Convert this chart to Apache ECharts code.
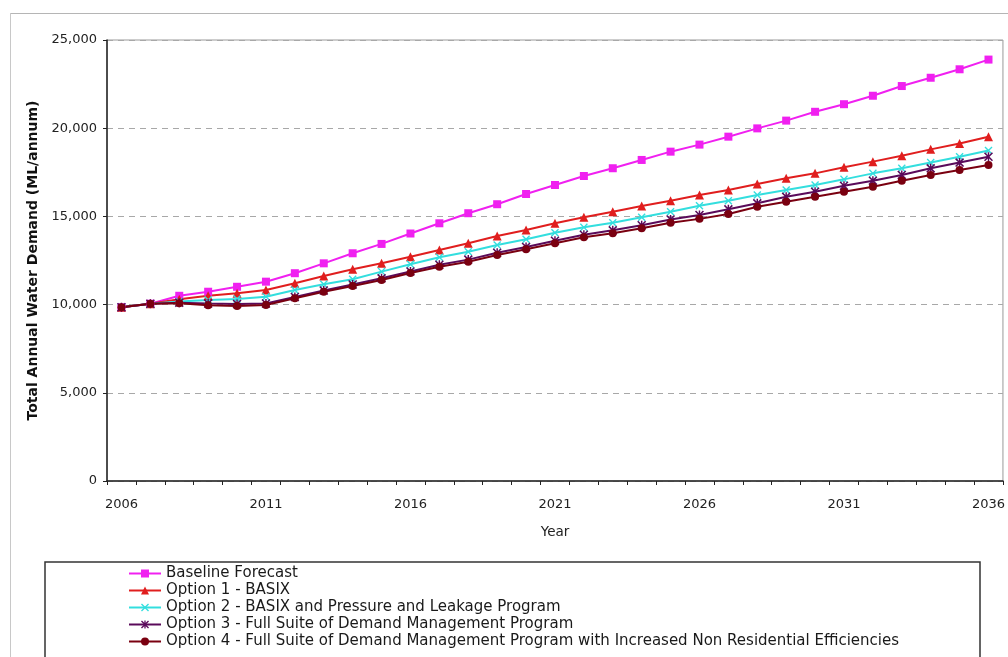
<!DOCTYPE html>
<html>
<head>
<meta charset="utf-8">
<script src="https://cdn.jsdelivr.net/npm/echarts@6/dist/echarts.min.js"></script>
<style>
html, body { margin: 0; padding: 0; background: #fff; }
#chart { width: 1008px; height: 657px; }
</style>
</head>
<body>
<div id="chart"></div>
<script>
// Forecast years
const years = ['2006','2007','2008','2009','2010','2011','2012','2013','2014','2015',
  '2016','2017','2018','2019','2020','2021','2022','2023','2024','2025',
  '2026','2027','2028','2029','2030','2031','2032','2033','2034','2035','2036'];

// Total annual water demand (ML/annum) per scenario
const baseline = [9850,10050,10500,10730,11010,11300,11780,12340,12910,13440,
  14030,14610,15180,15690,16270,16780,17290,17730,18200,18670,
  19070,19520,19990,20430,20930,21360,21840,22390,22860,23340,23890];
const option1 = [9850,10050,10300,10500,10640,10830,11210,11620,12000,12340,
  12715,13095,13475,13890,14230,14610,14950,15265,15590,15890,
  16215,16500,16840,17160,17440,17785,18105,18440,18800,19130,19520];
const option2 = [9850,10050,10170,10260,10320,10450,10830,11150,11440,11870,
  12290,12680,13000,13380,13700,14075,14380,14640,14950,15265,
  15600,15890,16215,16500,16780,17100,17440,17725,18050,18385,18740];
const option3 = [9850,10050,10110,10060,10040,10060,10430,10800,11140,11490,
  11880,12260,12550,12940,13270,13620,13960,14210,14500,14830,
  15080,15400,15740,16110,16400,16740,17025,17350,17725,18050,18380];
const option4 = [9850,10050,10070,9960,9920,9980,10355,10730,11055,11395,
  11790,12150,12430,12810,13135,13475,13815,14040,14325,14645,
  14860,15135,15550,15835,16120,16400,16685,17025,17350,17630,17915];

const seriesNames = [
  'Baseline Forecast',
  'Option 1 - BASIX',
  'Option 2 - BASIX and Pressure and Leakage Program',
  'Option 3 - Full Suite of Demand Management Program',
  'Option 4 - Full Suite of Demand Management Program with Increased Non Residential Efficiencies'
];
const yTicks = [0, 5000, 10000, 15000, 20000, 25000];

const FONT = '"DejaVu Sans", Verdana, sans-serif';
const crossMark = 'path://M0,1.2 L1.2,0 L5,3.8 L8.8,0 L10,1.2 L6.2,5 L10,8.8 L8.8,10 L5,6.2 L1.2,10 L0,8.8 L3.8,5 Z';
const starMark = 'path://M0,1.2 L1.2,0 L5,3.8 L8.8,0 L10,1.2 L6.2,5 L10,8.8 L8.8,10 L5,6.2 L1.2,10 L0,8.8 L3.8,5 Z M4.2,0 L5.8,0 L5.8,10 L4.2,10 Z';

function lineSeries(name, data, color, symbol, size) {
  return {
    name: name,
    type: 'line',
    data: data,
    symbol: symbol,
    symbolSize: size,
    showAllSymbol: true,
    lineStyle: { color: color, width: 2 },
    itemStyle: { color: color, borderColor: color, borderWidth: 0 },
    emphasis: { disabled: true },
    animation: false
  };
}

const chart = echarts.init(document.getElementById('chart'), null, { renderer: 'canvas' });
chart.setOption({
  backgroundColor: '#ffffff',
  animation: false,
  textStyle: { fontFamily: FONT },
  grid: {
    left: 107, top: 40, right: 3, bottom: 176,
    show: true, borderColor: '#9a9a9a', borderWidth: 1, backgroundColor: 'transparent'
  },
  legend: {
    orient: 'vertical',
    left: 128, top: 565,
    padding: 0,
    height: 92,
    itemWidth: 32, itemHeight: 10, itemGap: 0,
    textStyle: { fontFamily: FONT, fontSize: 15, color: '#1a1a1a', lineHeight: 17 },
    data: seriesNames
  },
  xAxis: {
    type: 'category',
    data: years,
    boundaryGap: true,
    name: 'Year',
    nameLocation: 'middle',
    nameGap: 44,
    nameTextStyle: { fontFamily: FONT, fontSize: 13.5, color: '#222' },
    axisLine: { lineStyle: { color: '#222', width: 1.5 } },
    axisTick: { show: true, interval: 0, length: 4, lineStyle: { color: '#222' } },
    axisLabel: { interval: 4, margin: 17, fontFamily: FONT, fontSize: 13, color: '#222' },
    splitLine: { show: false }
  },
  yAxis: {
    type: 'value',
    min: yTicks[0], max: yTicks[yTicks.length - 1], interval: 5000,
    name: 'Total Annual Water Demand (ML/annum)',
    nameLocation: 'middle',
    nameGap: 67,
    nameTextStyle: { fontFamily: FONT, fontSize: 14, fontWeight: 'bold', color: '#111' },
    axisLine: { show: true, lineStyle: { color: '#222', width: 1.5 } },
    axisTick: { show: true, length: 4, lineStyle: { color: '#222' } },
    axisLabel: {
      margin: 10, fontFamily: FONT, fontSize: 13, color: '#222',
      formatter: v => v.toLocaleString('en-US')
    },
    splitLine: { show: true, lineStyle: { color: '#a8a8a8', type: [6, 5], width: 1 } }
  },
  graphic: [
    { type: 'line', shape: { x1: 10, y1: 13.5, x2: 1008, y2: 13.5 }, style: { stroke: '#b5b5b5', lineWidth: 1 }, silent: true },
    { type: 'line', shape: { x1: 10.5, y1: 13, x2: 10.5, y2: 657 }, style: { stroke: '#c8c8c8', lineWidth: 1 }, silent: true },
    { type: 'rect', shape: { x: 45, y: 562, width: 935, height: 120 }, style: { fill: 'transparent', stroke: '#333', lineWidth: 1.5 }, silent: true, z: -1 }
  ],
  series: [
    lineSeries(seriesNames[0], baseline, '#f020f0', 'rect', 8),
    lineSeries(seriesNames[1], option1, '#e01e1e', 'triangle', 9),
    lineSeries(seriesNames[2], option2, '#33dede', crossMark, 8),
    lineSeries(seriesNames[3], option3, '#5a0a5a', starMark, 9),
    lineSeries(seriesNames[4], option4, '#7a0010', 'circle', 8)
  ]
});
</script>
</body>
</html>
